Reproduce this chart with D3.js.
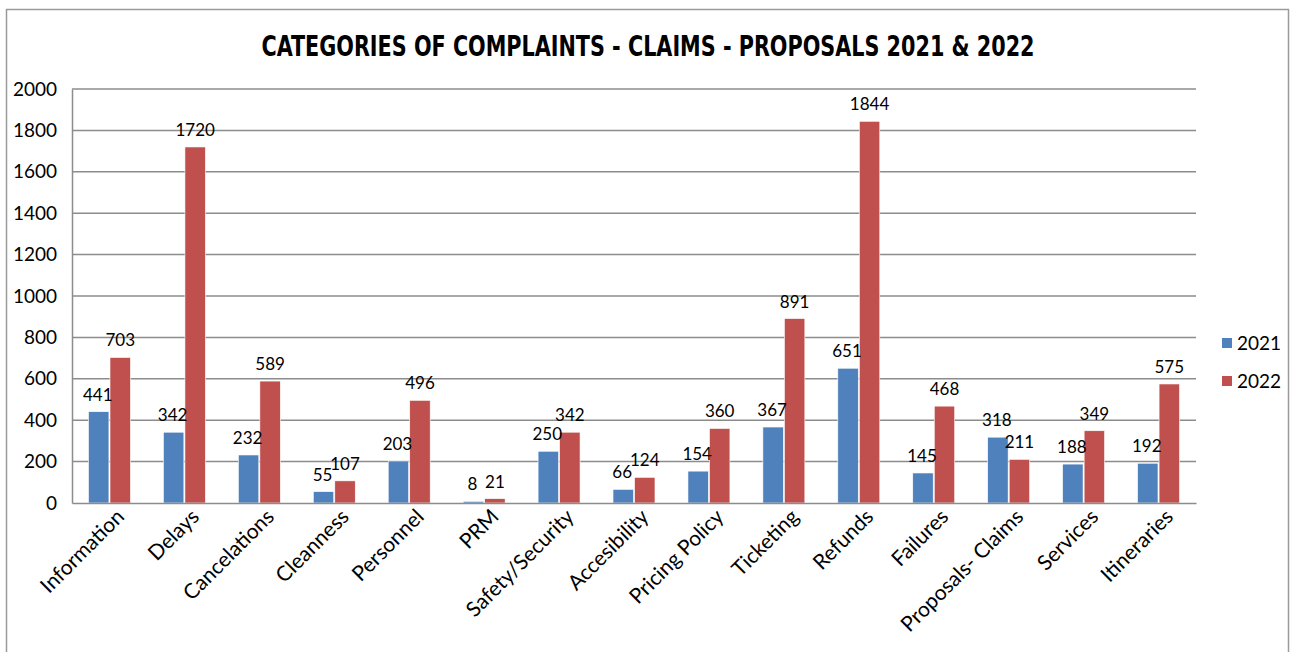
<!DOCTYPE html>
<html><head><meta charset="utf-8">
<script src="https://cdn.jsdelivr.net/npm/d3@7"></script>
<style>body{margin:0;background:#fff}svg{display:block}</style>
</head><body>
<svg id="c" width="1292" height="652"></svg>
<script>
const categories = ["Information","Delays","Cancelations","Cleanness","Personnel","PRM","Safety/Security","Accesibility","Pricing Policy","Ticketing","Refunds","Failures","Proposals- Claims","Services","Itineraries"];
const values2021 = [441,342,232,55,203,8,250,66,154,367,651,145,318,188,192];
const values2022 = [703,1720,589,107,496,21,342,124,360,891,1844,468,211,349,575];
const seriesNames = ["2021","2022"];
const yTicks = [0,200,400,600,800,1000,1200,1400,1600,1800,2000];
const titleText = "CATEGORIES OF COMPLAINTS - CLAIMS - PROPOSALS 2021 & 2022";

const colors = ["#4F81BD","#C0504D"];
const font = "Lato,'Open Sans',sans-serif";
const titleFont = "'DejaVu Sans Condensed','Liberation Sans Narrow',sans-serif";
const svg = d3.select("#c");
const m = {left:72, right:1196, top:89, bottom:503};

svg.append("rect").attr("x",6.5).attr("y",9.5).attr("width",1282).attr("height",660)
  .attr("fill","#fff").attr("stroke","#9a9a9a").attr("stroke-width",1.5);

svg.append("text").attr("x",648).attr("y",56).attr("text-anchor","middle")
  .attr("font-family",titleFont).attr("font-weight","bold").attr("font-size",29)
  .attr("textLength",773).attr("lengthAdjust","spacingAndGlyphs")
  .attr("fill","#000").text(titleText);

const x0 = d3.scaleBand().domain(categories).range([m.left,m.right]).paddingInner(0.44).paddingOuter(0.22);
const x1 = d3.scaleBand().domain(seriesNames).range([0,x0.bandwidth()]).paddingInner(0.05);
const y = d3.scaleLinear().domain([0,2000]).range([m.bottom,m.top]);

// gridlines
svg.append("g").selectAll("line").data(yTicks.filter(d=>d>0)).join("line")
  .attr("x1",m.left).attr("x2",m.right).attr("y1",d=>y(d)).attr("y2",d=>y(d))
  .attr("stroke","#8c8c8c").attr("stroke-width",1.5);

// y axis
const yAxis = svg.append("g").attr("transform",`translate(${m.left},0)`)
  .call(d3.axisLeft(y).tickValues(yTicks).tickFormat(d3.format("d")).tickSize(0).tickPadding(15));
yAxis.select(".domain").attr("stroke","#8c8c8c").attr("stroke-width",1.5);
yAxis.selectAll("text").attr("font-family",font).attr("font-size",19).attr("fill","#000");

const series = [values2021, values2022];
const data = [];
categories.forEach((c,i)=>series.forEach((s,j)=>data.push({c, k:seriesNames[j], v:s[i], j})));

svg.append("g").selectAll("rect").data(data).join("rect")
  .attr("x",d=>x0(d.c)+x1(d.k)).attr("width",x1.bandwidth())
  .attr("y",d=>y(d.v)).attr("height",d=>y(0)-y(d.v))
  .attr("fill",d=>colors[d.j]).attr("stroke","#fff").attr("stroke-width",0.6);

svg.append("g").selectAll("text").data(data).join("text")
  .attr("x",d=>x0(d.c)+x1(d.k)+x1.bandwidth()/2 + (d.j===0?-1:0))
  .attr("y",d=>y(d.v)-11).attr("text-anchor","middle")
  .attr("font-family",font).attr("font-size",17).attr("fill","#000").text(d=>d.v);

// x axis
const xAxis = svg.append("g").attr("transform",`translate(0,${m.bottom})`)
  .call(d3.axisBottom(x0).tickSize(0).tickSizeOuter(0));
xAxis.select(".domain").attr("stroke","#8c8c8c").attr("stroke-width",1.5);
xAxis.selectAll("text").attr("font-family",font).attr("font-size",21).attr("fill","#000")
  .attr("text-anchor","end").attr("dy",0).attr("y",0)
  .attr("transform","translate(16,15) rotate(-45)");

// legend
const lg = svg.append("g");
seriesNames.forEach((s,i)=>{
  const ly = 343 + i*38;
  lg.append("rect").attr("x",1222).attr("y",ly-5).attr("width",10).attr("height",10).attr("fill",colors[i]);
  lg.append("text").attr("x",1237).attr("y",ly+7).attr("font-family",font).attr("font-size",19).attr("fill","#000").text(s);
});
</script>
</body></html>
